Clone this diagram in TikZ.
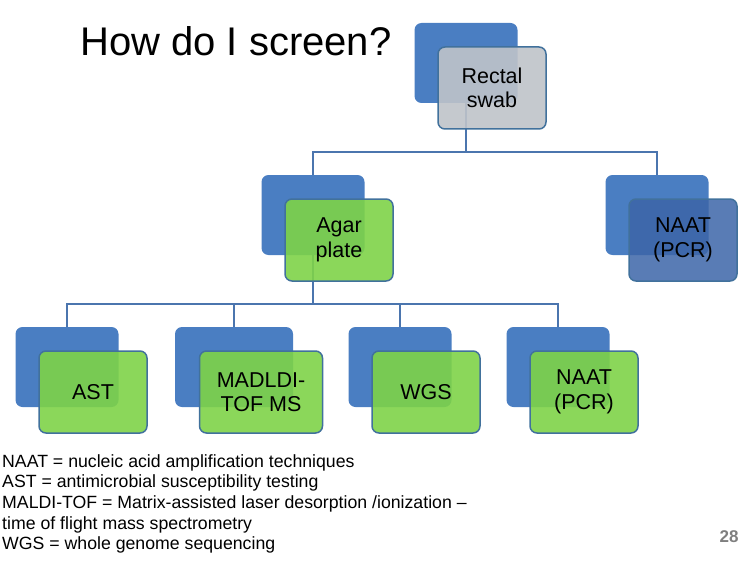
\documentclass[tikz,border=0pt]{standalone}
\usepackage{fontspec}
\setmainfont{Liberation Sans}
\usetikzlibrary{positioning, backgrounds}
\definecolor{backblue}{HTML}{4A7EC2}
\definecolor{edgeblue}{HTML}{41719C}
\definecolor{leafgreen}{HTML}{7ED348}
\definecolor{swabgray}{HTML}{BFC3C9}
\definecolor{pcrblue}{HTML}{3C65A8}
\definecolor{linkblue}{HTML}{4B75AE}
\definecolor{pagegray}{HTML}{7F7F7F}
\tikzset{
  x=1pt, y=-1pt,
  backbox/.style={fill=backblue, rounded corners=7pt, minimum width=103pt, minimum height=80pt},
  frontbox/.style={draw=edgeblue, line width=1.5pt, fill=leafgreen, fill opacity=0.9, text opacity=1,
    rounded corners=7pt, minimum width=108pt, minimum height=82pt, align=center,
    font=\fontsize{21.5}{24.5}\selectfont},
  graybox/.style={frontbox, fill=swabgray, fill opacity=0.9},
  bluebox/.style={frontbox, fill=pcrblue, fill opacity=0.85},
  link/.style={draw=linkblue, line width=2pt},
}

\begin{document}
\begin{tikzpicture}
  \useasboundingbox (0,0) rectangle (751,564);

  % title
  \node[anchor=base west, inner sep=0, font=\fontsize{40}{48}\selectfont] (title) at (80,56) {How do I screen?};

  % boxes
  \node[backbox] (swabback) at (466,63) {};
  \node[graybox] (swab) at ([shift={(26,25)}]swabback) {Rectal\\swab};

  \node[backbox] (agarback) at (313,215) {};
  \node[frontbox] (agar) at ([shift={(26,25)}]agarback) {Agar\\plate};

  \node[backbox] (pcrback) at (657,215) {};
  \node[bluebox] (pcr) at ([shift={(26,25)}]pcrback) {NAAT\\(PCR)};

  \node[backbox] (astback) at (67,367) {};
  \node[frontbox] (ast) at ([shift={(26,25)}]astback) {AST};

  \node[backbox, minimum width=118pt] (maldiback) at (234,367) {};
  \node[frontbox, minimum width=123pt] (maldi) at ([shift={(27,25)}]maldiback) {MADLDI-\\TOF MS};

  \node[backbox] (wgsback) at (400,367) {};
  \node[frontbox] (wgs) at ([shift={(26,25)}]wgsback) {WGS};

  \node[backbox] (naatback) at (558,367) {};
  \node[frontbox] (naat) at ([shift={(26,25)}]naatback) {NAAT\\(PCR)};

  % links
  \coordinate (topbus) at (466,152);
  \coordinate (lowbus) at (313,304);
  \begin{scope}[on background layer]
    \draw[link] (swabback) -- (topbus) -| (agarback);
    \draw[link] (topbus) -| (pcrback);
    \draw[link] (agarback) -- (lowbus) -| (astback);
    \draw[link] (lowbus) -| (maldiback);
    \draw[link] (lowbus) -| (wgsback);
    \draw[link] (lowbus) -| (naatback);
  \end{scope}

  % legend
  \node[anchor=north west, inner sep=0, align=left, font=\fontsize{17.7}{20.7}\selectfont] (legend) at (2,454)
    {NAAT = nucleic acid amplification techniques\\
     AST = antimicrobial susceptibility testing\\
     MALDI-TOF = Matrix-assisted laser desorption /ionization --\\
     time of flight mass spectrometry\\
     WGS = whole genome sequencing};
  \node[font=\fontsize{17}{19}\selectfont\bfseries, text=pagegray] (page) at (729,537) {28};
\end{tikzpicture}
\end{document}
